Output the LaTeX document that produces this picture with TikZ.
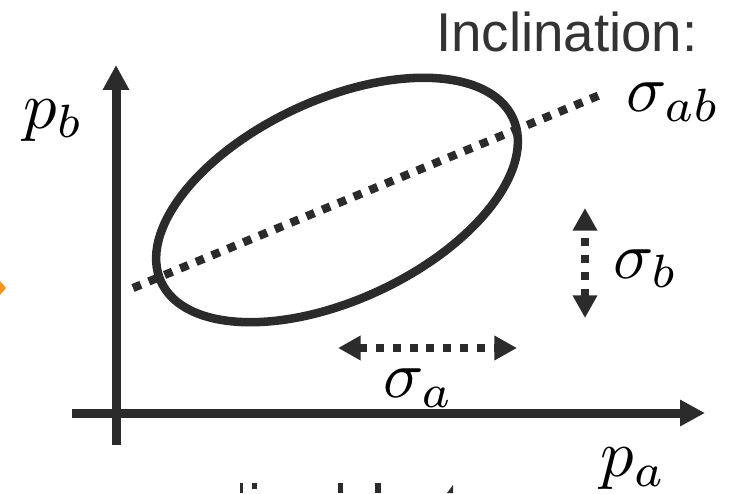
\documentclass[tikz,border=0pt]{standalone}
\usepackage{fontspec}
\newfontfamily\labelfont{Liberation Sans}
\usetikzlibrary{arrows.meta}
\definecolor{ink}{HTML}{2B2B2B}
\definecolor{txt}{HTML}{333333}
\definecolor{orangetip}{HTML}{F7941D}
\tikzset{
  axis/.style={draw=ink, line width=6.75pt, -{Triangle[length=18.75pt,width=18.75pt]}},
  ellipseline/.style={draw=ink, line width=6.4pt},
  dotline/.style={draw=ink, line width=6.2pt, dash pattern=on 6.4pt off 6.4pt},
  spreadarrow/.style={draw=ink, line width=6pt, dash pattern=on 6pt off 6.6pt,
     {Triangle[length=17pt,width=17.5pt]}-{Triangle[length=17pt,width=17.5pt]}},
  mathlabel/.style={inner sep=0pt, font=\fontsize{10}{12}\selectfont, scale=5, text=black},
  titlelabel/.style={inner sep=0pt, font=\labelfont\fontsize{41}{49}\selectfont, text=txt}
}
\begin{document}
\begin{tikzpicture}[x=0.75pt,y=0.75pt]
\useasboundingbox (0,0) rectangle (738,493);
% axes
\coordinate (ybot) at (116,48);
\coordinate (ytop) at (116,428);
\coordinate (xleft) at (72,80);
\coordinate (xright) at (705,80);
\draw[axis] (ybot) -- (ytop);
\draw[axis] (xleft) -- (xright);
% ellipse
\coordinate (ec) at (337,293);
\draw[ellipseline, rotate around={25:(ec)}] (ec) ellipse [x radius=194, y radius=100];
% inclination dotted line
\coordinate (d1) at (133,205);
\coordinate (d2) at (600,398);
\draw[dotline] (d1) -- (d2);
% sigma_b arrow
\coordinate (b1) at (585,175);
\coordinate (b2) at (585,285);
\draw[spreadarrow] (b1) -- (b2);
% sigma_a arrow
\coordinate (a1) at (338,145);
\coordinate (a2) at (517,145);
\draw[spreadarrow] (a1) -- (a2);
% labels
\node[mathlabel, anchor=base west] (lpb) at (22,365) {$p_b$};
\node[mathlabel, anchor=base west] (lpa) at (599,17) {$p_a$};
\node[mathlabel, anchor=base west] (lsb) at (612,215) {$\sigma_b$};
\node[mathlabel, anchor=base west] (lsa) at (382,96) {$\sigma_a$};
\node[mathlabel, anchor=base west] (lsab) at (625,381) {$\sigma_{ab}$};
\node[titlelabel, anchor=base west] (incl) at (436,441) {Inclination:};
% orange arrow tip clipped at left edge
\fill[orangetip] (0,212) -- (6,205) -- (0,198) -- cycle;
% fragments of clipped text at the bottom
\fill[ink] (240,0) rectangle (243,10);
\fill[ink] (252,4) rectangle (257,10);
\fill[ink] (338,0) rectangle (343,10);
\fill[ink] (375,0) rectangle (381,10);
\fill[ink] (447,0) -- (453,0) -- (453,8) -- cycle;
\end{tikzpicture}
\end{document}
